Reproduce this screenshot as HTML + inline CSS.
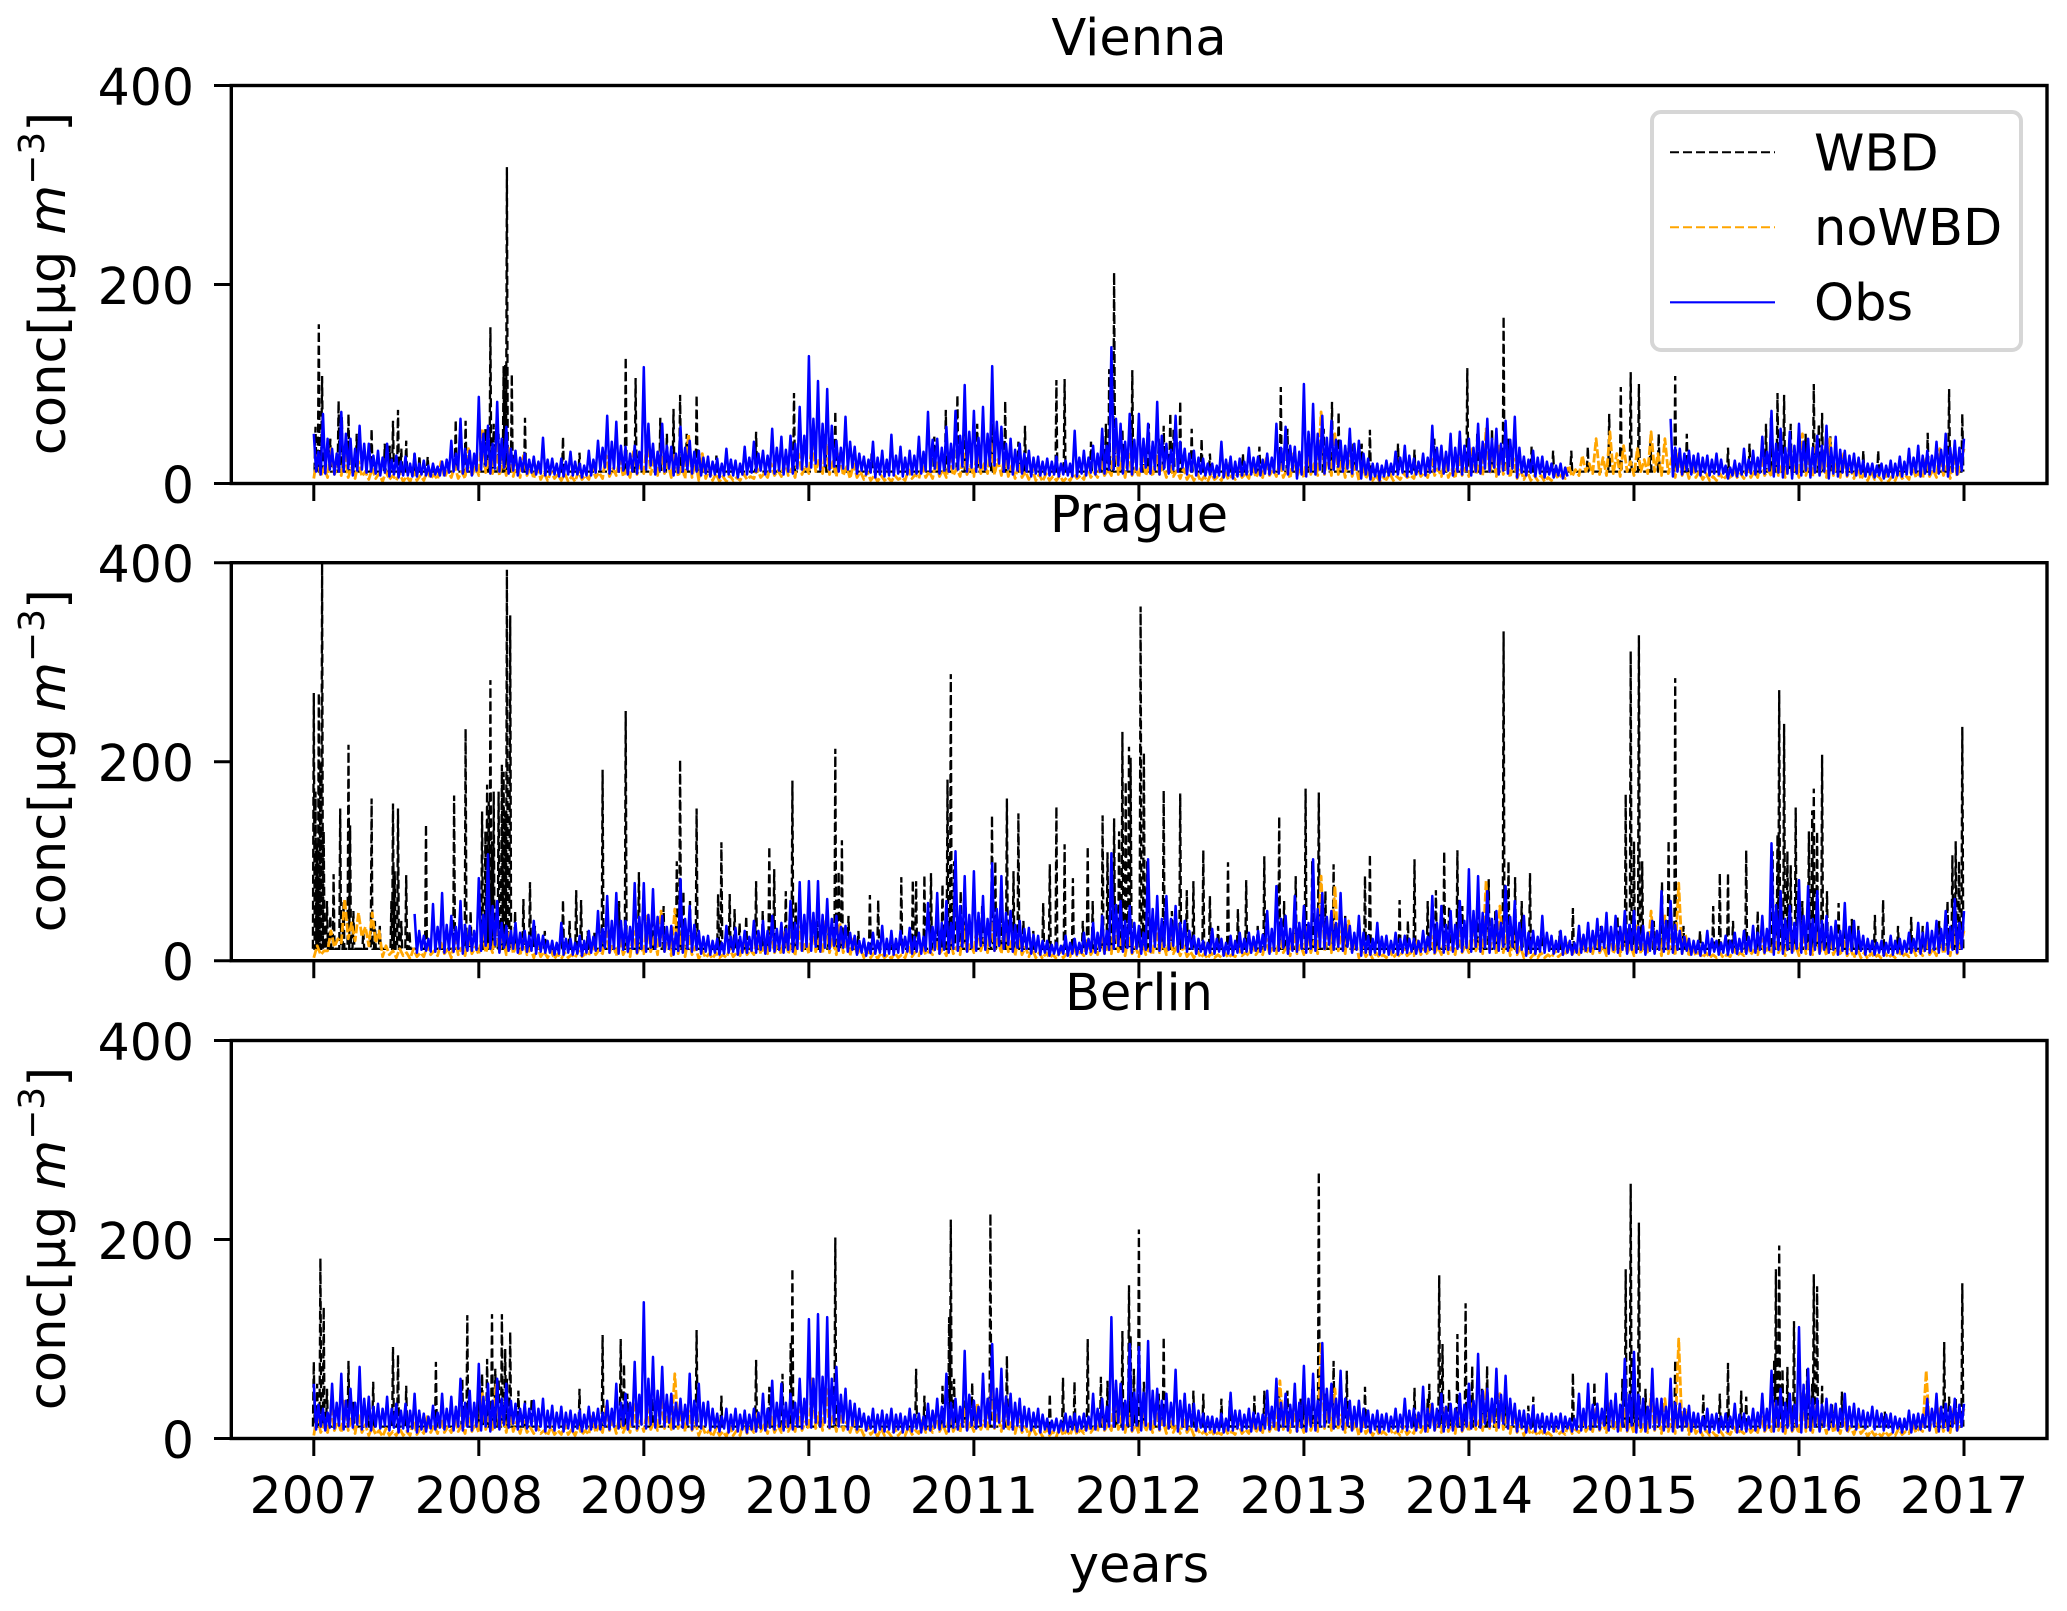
<!DOCTYPE html>
<html lang="en">
<head>
<meta charset="utf-8">
<title>Concentration time series</title>
<style>
html,body{margin:0;padding:0;background:#fff;}
svg{display:block;}
text{font-family:"DejaVu Sans","Liberation Sans",sans-serif;fill:#000;}
</style>
</head>
<body>
<svg id="chart" xmlns="http://www.w3.org/2000/svg" width="2067" height="1611" viewBox="0 0 2067 1611">
<rect x="0" y="0" width="2067" height="1611" fill="#fff"/>
<g id="panels"></g>
<g>
<rect x="1652" y="112" width="369" height="238" rx="9" ry="9" fill="#fff" stroke="#d6d6d6" stroke-width="4"/>
<line x1="1670" x2="1775" y1="152.3" y2="152.3" stroke="#000" stroke-width="2" stroke-dasharray="9 4"/>
<text x="1814" y="170.5" font-size="51">WBD</text>
<line x1="1670" x2="1775" y1="227.3" y2="227.3" stroke="#ffa500" stroke-width="2" stroke-dasharray="9 4"/>
<text x="1814" y="245" font-size="51">noWBD</text>
<line x1="1670" x2="1775" y1="302.3" y2="302.3" stroke="#0000ff" stroke-width="2.2"/>
<text x="1814" y="320" font-size="51">Obs</text>
</g>
<text x="1139" y="1582" font-size="51" text-anchor="middle">years</text>
</svg>
<script>
const yearTicks = [2007,2008,2009,2010,2011,2012,2013,2014,2015,2016,2017];
const valueTicks = [0,200,400];
const wbdFloorValue = 12;

const obsVienna = [
50,12,32,9,70,10,45,14,35,9,30,12,72,12,50,15,45,8,35,13,58,14,40,11,40,12,28,10,33,8,26,11,40,7,24,9,28,6,22,8,27,8,20,7,30,7,20,9,23,8,18,7,20,9,17,8,22,8,24,11,43,12,30,14,65,10,35,12,33,8,30,13,
87,14,50,18,58,10,40,15,82,12,45,16,57,10,35,13,33,8,26,12,30,10,24,11,27,9,22,10,46,8,24,9,25,9,20,7,25,7,22,9,32,8,22,9,20,6,18,8,33,8,24,11,43,14,36,16,68,10,42,15,62,12,38,13,37,9,30,12,38,10,32,14,
117,14,60,18,40,9,32,13,60,12,38,15,37,8,30,11,57,12,36,14,43,10,32,12,33,8,26,10,27,7,22,9,25,6,20,8,35,9,24,8,23,6,20,9,37,9,26,11,42,12,30,13,33,9,28,12,55,10,36,13,47,9,34,12,48,10,40,15,77,14,48,17,
128,16,65,20,103,14,60,18,95,14,58,17,43,12,36,15,67,14,42,16,37,10,30,13,27,9,24,11,42,6,26,9,33,7,24,8,49,8,28,10,37,7,26,9,33,9,28,10,47,10,32,13,72,12,44,15,45,10,36,13,57,12,40,15,73,14,48,17,99,12,52,16,
73,12,46,16,77,14,50,18,118,18,62,20,57,12,40,15,45,9,34,13,40,10,30,12,33,7,26,10,27,8,22,9,25,8,22,9,27,7,20,9,23,8,20,7,53,7,26,10,33,8,26,11,38,9,30,12,55,10,38,14,137,14,65,18,60,10,42,14,70,9,44,14,
70,12,45,16,60,10,42,14,82,9,48,15,40,10,34,14,68,12,42,16,35,9,30,12,33,8,26,10,25,8,20,9,20,6,18,8,42,6,24,8,27,5,22,7,25,8,22,9,36,9,26,11,27,8,24,10,30,9,26,11,60,10,36,14,57,9,38,13,37,5,32,9,
100,7,52,12,80,9,50,14,68,10,46,15,63,14,44,17,43,12,38,15,55,10,40,14,43,5,30,9,25,4,20,7,20,3,18,7,23,8,20,9,32,9,26,11,38,7,28,10,25,9,22,10,30,8,26,11,58,12,36,14,38,10,32,13,50,8,36,12,52,9,38,13,
45,8,36,12,60,10,42,15,65,12,45,16,55,9,40,13,63,10,44,15,67,6,36,11,27,8,24,11,33,7,26,10,27,6,22,9,20,6,18,8,20,5,16,7,null,null,null,null,null,null,null,null,null,null,null,null,null,null,null,null,null,null,null,null,null,null,null,null,null,null,null,null,
null,null,null,null,null,null,null,null,null,null,null,null,null,null,null,null,65,7,36,12,35,9,30,13,33,9,28,12,30,8,26,11,28,8,24,10,30,9,24,10,18,5,16,8,23,7,20,9,35,8,24,10,33,9,26,11,47,10,32,13,73,7,40,11,55,6,36,10,52,5,38,10,
60,8,42,13,45,6,36,11,48,8,38,12,58,5,36,10,47,7,34,11,33,8,28,11,30,8,26,10,23,7,20,9,20,6,18,8,20,5,18,7,23,6,20,8,27,7,22,9,35,9,26,11,38,7,28,10,33,9,28,12,42,10,34,13,50,7,36,12,43,9,36,13,45];

const noWbdVienna = [
5,28,7,16,6,35,9,18,8,30,6,16,5,22,7,12,4,15,5,10,2,12,4,8,3,10,2,7,2,12,3,8,3,13,5,9,4,22,6,13,6,18,5,12,5,35,7,18,
8,55,11,26,10,40,8,22,8,35,7,20,6,28,8,16,5,18,4,11,3,12,5,9,3,10,2,7,2,12,4,8,4,16,6,11,5,28,7,15,8,25,7,14,6,32,9,18,
10,45,9,24,8,35,10,20,6,30,7,18,5,50,6,22,3,30,5,14,3,10,2,7,2,8,3,6,3,10,4,7,5,15,6,10,6,20,8,13,7,25,8,15,6,30,9,18,
10,45,12,25,10,40,9,22,7,30,8,17,5,20,6,12,4,12,3,8,2,8,3,6,2,8,4,6,3,14,5,9,5,18,6,12,5,22,7,14,6,25,8,15,7,30,9,18,
7,35,10,20,10,40,9,24,8,30,7,18,5,20,6,12,4,15,3,9,2,10,3,7,3,8,2,6,3,10,5,8,4,18,6,11,6,22,8,14,8,50,9,22,6,30,8,16,
6,30,8,18,7,30,9,18,6,20,7,13,5,15,4,10,3,10,2,7,2,10,4,7,3,12,4,8,4,14,6,10,5,20,6,12,6,25,8,14,7,22,6,14,5,30,7,16,
6,35,9,20,8,72,9,30,8,50,9,24,6,35,7,18,3,22,5,12,3,8,2,6,4,10,3,7,4,10,6,8,5,18,7,11,6,25,8,15,7,25,6,14,5,28,8,16,
7,35,9,20,8,55,10,26,7,40,9,20,6,25,5,14,4,12,3,8,3,8,2,6,3,10,5,9,5,18,7,14,8,28,12,20,10,45,9,26,8,52,10,30,7,38,12,22,
8,35,12,24,10,52,12,30,8,45,10,26,6,30,8,18,5,20,6,12,4,10,3,7,3,10,4,8,4,15,6,10,5,20,6,12,6,25,8,14,7,30,8,18,6,35,8,18,
6,50,8,24,7,40,9,22,6,45,8,22,6,30,7,15,5,20,4,10,3,12,4,8,3,10,2,7,3,12,5,8,4,18,6,11,5,25,7,14,6,35,8,18,5,30,7,18,35];

const wbdViennaYears = [
2007.01,2007.03,2007.05,2007.15,2007.17,2007.21,2007.35,2007.46,2007.48,2007.51,2007.56,2007.61,2007.64,2007.69,2007.86,2007.92,
2008.06,2008.07,2008.15,2008.17,2008.20,2008.28,2008.51,2008.61,2008.89,2008.95,2009.10,2009.18,2009.22,2009.32,2009.44,2009.68,2009.91,
2010.16,2010.38,2010.76,2010.83,2010.90,2011.11,2011.19,2011.27,2011.31,2011.50,2011.55,2011.71,2011.78,2011.82,2011.85,2011.96,
2012.03,2012.15,2012.19,2012.25,2012.32,2012.38,2012.55,2012.73,2012.86,2012.90,
2013.17,2013.21,2013.40,2013.57,2013.67,2013.79,2013.99,2014.21,2014.38,2014.51,
2014.62,2014.72,2014.85,2014.92,2014.98,2015.03,2015.10,2015.25,2015.32,2015.57,
2015.70,2015.83,2015.87,2015.91,2016.09,2016.14,2016.19,2016.39,2016.48,2016.78,2016.91,2016.99,
2007.10,2007.26,2007.43,2007.53,2008.04,2008.09,2008.12,2008.16,2009.14,2009.26,2010.10,2010.95,2011.02,2011.80,2011.90,2012.06,2012.12,2012.21,2012.43,2012.63,2013.03,2013.12,2013.30,2013.35,2014.05,2014.14,2014.24,2015.15,2015.80,2015.95,2016.04,2016.12];
const wbdViennaValues = [
57,160,108,83,67,70,55,38,63,74,43,32,28,27,64,63,
58,157,118,318,110,66,47,31,127,106,66,75,89,89,28,52,91,
73,30,47,74,89,100,83,42,58,104,105,42,47,115,212,114,
40,58,71,83,55,45,23,37,97,55,
82,72,54,40,34,45,116,168,37,33,
33,37,70,97,112,100,45,108,50,36,
40,66,91,89,100,71,48,33,33,51,95,70,
45,50,40,35,55,60,50,120,50,50,50,55,60,60,55,60,45,55,30,30,50,55,40,40,50,55,45,50,60,60,50,60];

const obsPrague = [
null,null,null,null,null,null,null,null,null,null,null,null,null,null,null,null,null,null,null,null,null,null,null,null,null,null,null,null,null,null,null,null,null,null,null,null,null,null,null,null,null,null,null,null,47,8,30,11,25,10,22,9,57,9,34,12,68,8,36,11,45,9,34,12,60,7,36,10,35,10,30,11,
83,10,46,15,107,12,55,16,60,8,38,13,35,10,30,12,38,8,28,11,30,9,25,10,40,7,26,9,25,8,20,8,20,6,18,7,38,6,22,8,22,6,18,7,25,5,20,8,30,8,24,10,50,10,32,13,65,8,40,12,68,7,40,11,40,9,34,12,78,8,44,12,
78,9,46,13,72,12,44,15,45,9,34,12,35,6,28,10,82,8,42,12,55,9,36,11,30,7,24,9,25,6,20,8,22,6,18,7,35,8,24,9,33,6,24,8,30,8,24,10,40,8,30,11,40,7,30,10,45,9,32,11,38,8,32,11,60,9,38,12,79,10,46,14,
80,10,48,14,80,9,46,13,62,12,42,15,45,10,34,13,35,9,28,11,25,6,20,8,22,5,18,7,28,7,20,8,35,5,22,7,30,6,22,8,30,8,24,9,33,7,24,9,28,7,24,10,58,8,34,11,68,7,38,11,60,8,38,12,110,10,55,14,85,9,46,13,
90,10,48,15,65,11,42,15,98,10,52,15,85,12,48,16,50,9,36,13,40,10,32,12,33,7,26,9,25,6,20,8,20,5,16,7,18,6,15,7,25,5,18,7,22,6,18,8,28,7,22,9,38,8,28,10,45,7,30,11,108,12,56,15,60,9,40,13,55,8,38,12,
35,7,28,11,102,9,52,14,65,10,42,14,65,11,42,15,55,9,38,13,40,9,30,12,25,7,22,9,20,6,18,8,32,7,22,9,22,5,18,7,25,6,20,8,28,8,22,9,28,8,24,10,30,9,26,11,50,7,32,10,75,10,42,13,45,7,32,10,65,9,38,12,
55,8,38,12,102,10,52,14,68,12,44,16,50,11,38,14,68,10,42,14,35,8,28,11,45,5,28,8,25,6,22,8,38,6,24,8,25,6,20,8,28,6,22,8,25,8,22,9,22,7,20,9,30,9,24,11,65,8,38,12,55,8,36,11,50,9,36,12,60,9,40,13,
92,9,50,14,85,9,48,13,70,8,42,12,50,10,38,14,75,10,44,14,60,8,38,11,45,5,28,8,30,7,24,9,45,8,28,10,25,7,20,9,30,6,24,8,20,6,18,8,35,8,26,10,38,9,30,12,42,10,34,13,48,7,34,11,45,8,34,11,50,7,36,11,
50,8,34,11,35,6,28,10,40,7,30,11,70,9,40,12,60,8,36,11,30,7,24,10,22,6,20,8,20,5,18,8,30,6,22,9,20,6,18,8,25,6,20,8,28,7,22,9,30,7,24,10,35,8,28,11,45,8,32,11,118,6,56,11,70,7,42,11,55,8,38,12,
81,8,45,12,75,6,42,11,70,7,40,11,45,8,34,11,40,6,30,10,58,7,34,10,40,7,30,10,25,6,22,9,20,6,18,8,20,5,18,8,25,6,20,8,22,7,20,9,28,8,22,10,38,7,28,10,38,8,30,11,40,8,32,11,50,7,34,11,62,8,38,12,50];

const noWbdPrague = [
3,15,6,10,10,30,14,22,18,62,22,38,20,48,24,34,15,48,18,30,4,15,6,10,3,12,5,8,2,12,4,8,4,15,6,10,5,18,7,12,3,22,6,13,5,25,7,14,
6,30,8,18,8,40,9,22,6,30,7,17,5,22,6,13,3,15,4,9,3,10,2,7,2,8,3,6,3,10,4,7,5,18,6,11,7,30,8,17,5,25,6,14,4,30,7,16,
7,45,9,24,6,50,8,26,5,52,7,28,4,25,6,14,2,10,3,7,2,8,3,6,3,12,4,8,5,18,6,11,6,25,7,14,7,30,8,17,6,30,7,17,5,35,8,18,
7,40,9,22,7,40,8,22,6,38,8,20,5,22,6,13,3,12,3,8,2,8,3,6,2,8,3,6,3,14,4,9,5,15,6,10,6,20,7,12,5,25,7,14,6,35,8,18,
8,40,10,22,8,38,10,22,7,35,9,20,5,25,6,14,4,12,3,8,2,8,3,6,2,10,3,7,4,14,5,9,5,20,6,12,6,25,7,14,7,45,9,22,5,25,7,14,
4,20,6,12,6,35,8,18,6,25,7,14,5,15,4,9,3,10,3,7,2,8,3,6,3,8,3,6,4,12,5,8,5,18,6,11,6,22,7,13,7,25,8,14,5,30,7,16,
6,35,8,20,7,85,9,32,8,75,10,30,7,40,8,20,3,15,4,9,2,8,3,6,3,10,3,7,4,12,5,8,5,20,6,12,6,25,7,14,6,25,7,14,6,30,8,16,
8,40,10,22,7,80,9,30,6,55,8,26,5,25,6,14,3,10,3,7,3,8,3,6,3,10,4,7,5,18,6,11,6,22,7,13,7,25,8,15,5,30,7,16,5,30,7,16,
5,35,7,18,7,50,8,24,5,45,7,22,5,78,7,26,4,15,5,9,3,8,3,6,3,8,3,6,4,12,5,8,5,18,6,11,6,22,7,13,7,25,8,15,5,30,7,16,
5,35,7,18,6,30,7,17,5,25,6,14,5,20,5,12,3,12,3,8,2,8,3,6,2,8,3,6,3,10,4,7,4,15,5,10,5,20,6,12,5,25,7,14,5,30,7,16,30];

const wbdPragueYears = [
2007.00,2007.01,2007.03,2007.04,2007.05,2007.12,2007.16,2007.21,2007.22,2007.35,2007.48,2007.51,2007.56,2007.68,2007.85,2007.92,
2008.04,2008.05,2008.07,2008.09,2008.14,2008.15,2008.17,2008.19,2008.27,2008.31,2008.51,2008.59,2008.62,2008.75,2008.89,2008.97,
2009.22,2009.32,2009.45,2009.47,2009.52,2009.55,2009.68,2009.76,2009.79,2009.90,
2010.16,2010.20,2010.37,2010.42,2010.56,2010.63,2010.65,2010.70,2010.74,2010.81,2010.84,2010.86,
2011.11,2011.20,2011.27,2011.42,2011.46,2011.50,2011.55,2011.60,2011.69,2011.78,2011.81,2011.85,2011.90,2011.94,2011.95,
2012.01,2012.03,2012.15,2012.25,2012.29,2012.33,2012.39,2012.43,2012.54,2012.60,2012.65,2012.76,2012.85,
2013.01,2013.09,2013.18,2013.37,2013.40,2013.58,2013.67,2013.80,2013.85,2013.93,
2014.12,2014.21,2014.28,2014.37,2014.63,2014.95,2014.98,2015.03,2015.17,2015.21,2015.25,2015.48,2015.52,2015.57,2015.68,
2015.87,2015.88,2015.91,2015.95,2015.98,2016.08,2016.09,2016.14,2016.24,2016.32,2016.46,2016.51,2016.68,2016.93,2016.95,2016.99,
2007.02,2007.06,2007.08,2007.10,2007.18,2007.24,2007.30,2007.37,2007.40,2007.47,2007.49,2007.53,2007.58,2007.95,2008.02,2008.06,2008.08,2008.12,2008.16,2008.22,2008.34,2008.40,2008.55,2008.66,2008.70,2008.85,
2009.05,2009.12,2009.20,2009.24,2009.28,2009.58,2009.62,2009.72,2009.86,2009.92,2010.05,2010.12,2010.18,2010.24,2010.30,2010.50,2010.78,2010.88,2010.92,2010.95,
2011.05,2011.13,2011.17,2011.24,2011.30,2011.36,2011.66,2011.72,2011.83,2011.88,2011.92,2012.05,2012.20,2012.48,2012.72,2012.88,2012.95,
2013.05,2013.13,2013.25,2013.45,2013.63,2013.75,2013.88,2013.96,2014.05,2014.16,2014.24,2014.32,2014.45,2014.55,2014.80,2014.90,
2015.00,2015.05,2015.12,2015.30,2015.40,2015.60,2015.75,2015.84,2015.93,2016.02,2016.06,2016.11,2016.17,2016.28,2016.36,2016.60,2016.75,2016.85,2016.90,2016.97];
const wbdPragueValues = [
269,170,269,200,400,87,153,217,136,163,158,153,86,137,166,233,
130,177,282,170,197,190,393,347,62,79,61,71,61,192,251,89,
202,153,67,119,67,52,80,115,92,181,
213,121,66,61,84,81,80,86,88,77,182,288,
146,163,148,58,97,155,117,83,115,146,109,143,230,215,204,
356,209,171,168,71,80,111,65,99,52,81,105,145,
173,169,97,85,107,61,102,71,110,111,
82,331,84,88,53,167,311,327,79,121,284,55,88,88,111,
127,272,238,96,154,151,173,207,58,42,46,61,44,106,120,235,
120,130,60,45,60,50,30,40,35,60,90,40,30,50,150,160,120,170,150,50,35,30,40,30,28,60,
45,55,100,70,60,38,45,50,70,60,40,35,90,45,30,30,50,100,70,55,
55,100,70,90,40,30,40,60,85,130,180,100,50,35,35,60,85,
100,70,45,28,40,60,55,55,60,50,100,60,30,30,35,45,
120,100,40,35,30,40,50,110,110,60,130,130,70,40,35,35,35,40,60,100];

const obsBerlin = [
55,9,34,12,30,8,26,11,55,10,36,13,65,9,38,12,50,11,36,14,72,9,40,12,42,8,32,12,35,10,30,13,42,8,30,11,35,6,28,10,35,7,28,10,45,6,28,9,25,7,22,10,33,9,26,11,45,9,30,12,42,8,32,12,60,8,36,12,48,8,36,12,
75,8,42,12,55,7,38,11,60,9,40,14,55,11,38,15,35,9,30,13,35,10,30,13,38,8,30,12,40,7,28,11,33,8,26,11,32,7,26,10,28,7,24,10,28,7,24,10,32,9,26,11,30,9,26,12,38,9,30,12,55,10,36,13,45,9,36,13,77,10,44,14,
137,10,60,14,82,11,48,15,72,12,44,16,45,10,36,14,40,11,34,14,65,9,38,13,55,10,36,13,37,8,30,11,25,7,22,10,30,6,24,9,30,7,24,9,28,6,24,9,30,7,26,10,45,8,30,11,58,9,36,12,55,8,36,12,45,9,36,12,60,10,40,14,
120,11,60,16,125,12,62,16,122,11,60,15,72,12,44,16,50,9,38,13,35,9,30,12,25,8,22,10,30,6,24,9,28,7,24,9,30,6,24,9,25,6,22,9,30,7,24,10,25,6,22,9,35,8,28,11,40,9,32,12,65,7,36,11,40,9,32,12,88,8,44,13,
38,10,32,13,65,12,40,15,95,11,50,16,70,10,42,14,45,9,36,13,40,8,32,12,30,8,26,11,30,6,24,9,20,5,18,8,20,6,18,8,25,7,22,9,25,7,22,10,25,8,22,10,45,9,30,12,40,9,32,12,122,12,58,16,55,9,38,13,95,8,46,13,
92,8,46,13,98,9,48,14,50,9,38,13,45,10,36,14,69,7,38,12,45,9,34,12,35,8,28,11,25,7,22,9,22,6,20,8,25,6,20,8,46,8,28,10,28,8,24,10,30,7,26,10,25,8,24,10,48,9,32,12,60,8,36,12,45,8,34,12,55,7,36,11,
73,7,40,12,65,8,38,12,96,12,50,16,55,10,40,14,68,9,40,13,38,8,32,12,38,7,30,11,28,6,24,9,28,6,24,9,25,7,22,10,30,7,24,10,40,8,28,11,30,8,26,11,52,7,30,11,35,8,30,12,45,7,32,11,35,8,30,12,45,8,34,12,
55,10,38,13,85,11,48,15,50,12,40,16,70,11,44,15,63,10,40,14,35,7,28,11,28,6,24,10,33,7,24,10,25,6,22,9,25,7,22,10,25,7,22,10,20,7,20,9,45,8,30,11,55,9,34,12,35,9,30,13,65,8,38,12,45,7,34,12,80,8,44,13,
87,6,44,11,40,7,32,11,70,9,40,13,40,8,32,12,60,7,36,11,35,8,30,12,33,7,26,11,25,6,22,9,30,6,24,9,25,6,22,9,25,7,22,10,35,6,24,9,25,7,22,10,30,8,26,11,45,8,30,11,68,7,38,12,50,7,36,11,45,8,34,12,
112,6,54,11,70,8,40,12,40,7,34,12,40,9,34,12,35,8,30,12,45,8,32,12,35,9,30,13,28,10,26,13,32,9,28,12,25,8,24,11,25,6,22,10,20,6,20,9,28,6,24,10,25,9,24,11,40,8,30,12,45,7,32,11,35,8,32,12,40,8,34,12,35];

const noWbdBerlin = [
3,25,6,14,6,30,8,17,6,40,8,20,5,25,6,14,3,12,4,8,2,10,3,7,3,10,3,7,3,18,4,10,5,22,6,13,5,20,6,12,6,22,7,13,5,28,7,15,
6,45,9,22,7,55,9,26,6,30,7,17,5,18,6,11,5,12,5,8,3,12,4,8,4,14,4,9,3,12,4,8,4,22,6,13,6,32,8,18,5,25,6,14,6,35,8,18,
7,30,9,17,8,42,10,22,9,65,10,28,7,28,8,16,3,12,4,8,2,10,3,7,2,12,3,8,3,18,5,11,6,25,7,14,5,22,6,13,6,25,7,14,7,30,8,17,
9,60,10,26,8,50,10,24,7,30,8,17,6,18,6,11,3,12,4,8,2,10,3,7,2,10,3,7,3,12,4,8,5,18,6,11,6,25,7,14,5,28,7,15,6,30,8,16,
7,35,9,18,8,52,10,24,7,35,8,18,5,20,6,12,3,12,4,8,2,10,3,7,2,12,3,8,3,14,4,9,5,18,6,11,7,25,8,14,8,50,9,22,6,25,7,14,
5,30,7,16,6,35,8,18,5,25,6,14,5,20,6,12,3,10,4,7,3,8,3,6,4,10,4,7,4,15,5,9,5,20,6,12,6,30,7,16,7,58,9,24,6,30,7,16,
6,35,8,18,7,96,10,34,8,50,9,24,6,30,7,16,3,18,5,10,3,10,3,7,4,10,4,7,3,12,4,8,5,22,6,13,7,35,8,18,6,30,7,16,5,30,7,16,
7,35,9,18,8,50,10,24,8,45,9,22,5,25,6,14,3,12,4,8,3,8,3,6,3,10,4,7,4,15,5,9,6,22,7,13,7,30,8,16,6,35,8,18,6,30,7,16,
5,30,7,16,6,45,8,22,5,40,7,20,5,100,7,30,4,18,5,10,3,8,3,6,2,8,3,6,4,12,5,8,5,15,6,10,6,22,7,13,7,35,8,18,5,25,7,14,
5,45,7,22,6,35,8,18,5,25,6,14,5,20,6,12,4,15,5,9,2,8,3,6,2,7,3,5,3,10,4,7,5,15,6,10,7,68,8,26,6,30,7,16,6,30,8,16,30];

const wbdBerlinYears = [
2007.00,2007.04,2007.06,2007.21,2007.36,2007.48,2007.51,2007.56,2007.74,2007.93,
2008.02,2008.05,2008.08,2008.14,2008.16,2008.19,2008.24,2008.32,2008.61,2008.75,2008.86,2008.88,
2009.32,2009.47,2009.68,2009.76,2009.89,2009.90,2010.16,2010.65,2010.70,2010.81,2010.85,2010.86,2010.99,
2011.10,2011.20,2011.46,2011.54,2011.61,2011.69,2011.77,2011.81,2011.90,2011.94,2011.95,2012.00,
2012.03,2012.15,2012.33,2012.39,2012.50,2012.55,2012.70,2012.76,2012.85,2012.90,
2013.00,2013.09,2013.18,2013.26,2013.37,2013.67,2013.76,2013.82,2013.84,2013.93,
2013.98,2014.02,2014.11,2014.22,2014.36,2014.39,2014.63,2014.76,2014.83,2014.95,
2014.98,2015.03,2015.25,2015.42,2015.52,2015.57,2015.65,2015.68,2015.86,2015.88,
2015.93,2015.97,2016.09,2016.11,2016.14,2016.26,2016.52,2016.88,2016.91,2016.99,
2007.02,2007.08,2007.24,2007.33,2007.90,2008.00,2008.10,2008.12,2008.17,2008.28,2008.90,2009.05,2009.84,2010.07,2010.88,2010.95,2011.86,2011.97,2012.12,2012.98,2013.05,2013.13,2013.75,2013.88,2014.08,2014.16,2014.93,2015.00,2015.07,2015.85,2015.90,2016.05,2016.08,2016.20,2016.95];
const wbdBerlinValues = [
77,181,132,78,57,92,84,53,77,124,
65,80,125,125,90,107,48,40,50,104,100,75,
109,43,79,52,96,171,202,70,43,53,122,220,56,
226,83,45,61,57,100,62,58,108,154,103,210,
57,102,48,45,40,38,43,48,47,48,
65,268,78,68,52,51,55,164,95,105,
136,73,73,51,33,42,66,57,50,170,
256,217,79,44,45,76,48,42,170,194,
72,118,165,153,53,47,27,97,42,156,
55,50,38,35,60,50,70,60,60,38,45,40,65,35,60,40,55,70,45,40,50,45,40,50,50,40,60,60,50,80,70,70,55,35,40];

const panelNames = ['vienna','prague','berlin'];
const panelTitles = ['Vienna','Prague','Berlin'];
const panelObs = [obsVienna,obsPrague,obsBerlin];
const panelNoWbd = [noWbdVienna,noWbdPrague,noWbdBerlin];
const panelWbdYears = [wbdViennaYears,wbdPragueYears,wbdBerlinYears];
const panelWbdValues = [wbdViennaValues,wbdPragueValues,wbdBerlinValues];

const NS = 'http://www.w3.org/2000/svg';
const plotLeft = 231.3, plotRight = 2047;
const plotHeight = 398;
const plotTops = [85.5,562.7,1040.5];

function xAxis(year){ return 313.8 + (year-2007)*165.02; }
function yAxis(value, top){ return top + plotHeight - value*plotHeight/400; }

function make(parent, tag, attrs){
  const el = document.createElementNS(NS, tag);
  for (const k in attrs) el.setAttribute(k, attrs[k]);
  parent.appendChild(el);
  return el;
}

function uniformPaths(values, perYear, top){
  const segs = []; let cur = [];
  values.forEach(function(v,i){
    if (v === null){ if (cur.length) segs.push(cur); cur = []; return; }
    cur.push(xAxis(2007+i/perYear).toFixed(1)+','+yAxis(v,top).toFixed(1));
  });
  if (cur.length) segs.push(cur);
  return segs.map(function(s){ return 'M'+s.join('L'); }).join('');
}

function spikePath(years, values, top){
  const order = years.map(function(y,i){ return i; }).sort(function(a,b){ return years[a]-years[b]; });
  const halfWidth = 2/365;
  const pts = [];
  order.forEach(function(i){
    pts.push(xAxis(years[i]-halfWidth).toFixed(1)+','+yAxis(wbdFloorValue,top).toFixed(1));
    pts.push(xAxis(years[i]).toFixed(1)+','+yAxis(values[i],top).toFixed(1));
    pts.push(xAxis(years[i]+halfWidth).toFixed(1)+','+yAxis(wbdFloorValue,top).toFixed(1));
  });
  return 'M'+pts.join('L');
}

const root = document.getElementById('panels');
const defs = make(root,'defs',{});

panelNames.forEach(function(name,p){
  const top = plotTops[p];
  const bottom = top + plotHeight;
  const g = make(root,'g',{});
  
  

  const clip = make(defs,'clipPath',{id:'clip-'+name});
  make(clip,'rect',{x:plotLeft,y:top,width:plotRight-plotLeft,height:plotHeight});

  const title = make(g,'text',{x:1139,y:top-30.5,'font-size':51,'text-anchor':'middle'});
  title.textContent = panelTitles[p];
  
  

  const wbd = make(g,'path',{d:spikePath(panelWbdYears[p],panelWbdValues[p],top),fill:'none',stroke:'#000','stroke-width':2.3,'stroke-dasharray':'9 4','clip-path':'url(#clip-'+name+')'});
  
  

  const nowbd = make(g,'path',{d:uniformPaths(panelNoWbd[p],48,top),fill:'none',stroke:'#ffa500','stroke-width':2.8,'stroke-dasharray':'9 2.5','stroke-linejoin':'round','clip-path':'url(#clip-'+name+')'});
  
  

  const obs = make(g,'path',{d:uniformPaths(panelObs[p],72,top),fill:'none',stroke:'#0000ff','stroke-width':2.5,'stroke-linejoin':'round','clip-path':'url(#clip-'+name+')'});
  
  

  const frame = make(g,'rect',{x:plotLeft,y:top,width:plotRight-plotLeft,height:plotHeight,fill:'none',stroke:'#000','stroke-width':3.4});
  
  

  valueTicks.forEach(function(v){
    const y = yAxis(v,top);
    const t = make(g,'line',{x1:214,x2:plotLeft,y1:y,y2:y,stroke:'#000','stroke-width':3});
    
    
    const l = make(g,'text',{x:194,y:y+19.3,'font-size':50.5,'text-anchor':'end'});
    l.textContent = String(v);
    
    
  });

  yearTicks.forEach(function(yr){
    const x = xAxis(yr);
    const t = make(g,'line',{x1:x,x2:x,y1:bottom,y2:bottom+17.5,stroke:'#000','stroke-width':3});
    
    
    if (p === 2){
      const l = make(g,'text',{x:x,y:bottom+74.5,'font-size':50.5,'text-anchor':'middle'});
      l.textContent = String(yr);
      
      
    }
  });

  const cy = top + plotHeight/2 - 1;
  const ylab = make(g,'text',{transform:'translate(65,'+cy+') rotate(-90)','font-size':51,'text-anchor':'middle'});
  
  
  const a = make(ylab,'tspan',{}); a.textContent = 'conc[\u03BCg ';
  const b = make(ylab,'tspan',{'font-style':'italic'}); b.textContent = 'm';
  const c = make(ylab,'tspan',{'font-size':36,dy:-21}); c.textContent = '\u22123';
  const d = make(ylab,'tspan',{dy:21}); d.textContent = ']';
});
</script>
</body>
</html>
